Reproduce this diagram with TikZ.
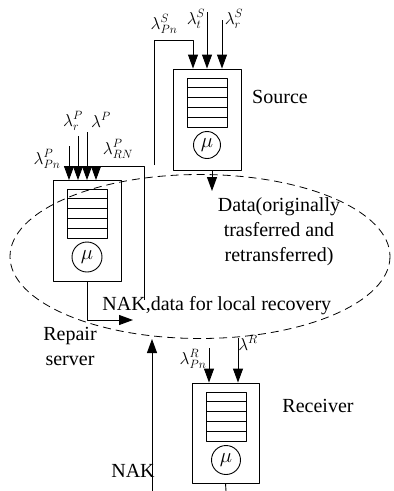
\documentclass[tikz,border=0pt]{standalone}
\usepackage{fontspec}
\setmainfont{Liberation Serif}
\usetikzlibrary{arrows.meta}
\begin{document}
\begin{tikzpicture}[x=1pt,y=-1pt,>={Triangle[length=14pt,width=10pt]}, line width=0.9pt, font=\fontsize{20}{25}\selectfont, line join=round]
\tikzset{station/.style={draw,minimum width=68pt,minimum height=101pt,inner sep=0pt},
	buffer/.style={draw,minimum width=40pt,minimum height=49pt,inner sep=0pt,
		path picture={\foreach \k in {1,...,4} \draw ([yshift=-\k*9.8pt]path picture bounding box.north west)--++(40pt,0);}},
	server/.style={draw,circle,minimum size=27pt,inner sep=0pt},
	lab/.style={inner sep=0pt,font=\fontsize{17}{20}\selectfont}}
\useasboundingbox (0,0) rectangle (394,491);
% Source
\node[station] (src) at (207,119.5) {};
\node[buffer] (srcq) at (207,102.5) {};
\node[server] (srcm) at (207,145) {$\mu$};
\node at (280,97) (srcl) {Source};
% Repair server
\node[station] (rep) at (87,231) {};
\node[buffer] (repq) at (87.5,213.5) {};
\node[server,minimum size=30pt] (repm) at (87,257) {$\mu$};
\node[align=center] at (70,346) (repl) {Repair\\server};
% Receiver
\node[station,minimum width=67pt,minimum height=100pt] (rcv) at (225.5,433) {};
\node[buffer] (rcvq) at (226,416.5) {};
\node[server,minimum size=29pt] (rcvm) at (226,460) {$\mu$};
\node at (318,406) (rcvl) {Receiver};
% local group
\draw[dashed,dash pattern=on 8pt off 5pt,line width=0.8pt] (200,256.5) ellipse [x radius=190, y radius=82];
% inputs of the source
\coordinate (sPn) at (154,165); \coordinate (sPnk) at (193,40);
\coordinate (st) at (207,12); \coordinate (sr) at (222,20);
\draw[->] (sPn) |- (sPnk) -- ([xshift=-14pt]src.north);
\draw[->] (st) -- (src.north);
\draw[->] (sr) -- ([xshift=15pt]src.north);
\node[lab] at (164,24) (lsPn) {$\lambda^S_{Pn}$};
\node[lab] at (196,19) (lst) {$\lambda^S_t$};
\node[lab] at (234,19) (lsr) {$\lambda^S_r$};
% data out of the source
\coordinate (sdat) at (212,191);
\draw[->] ([xshift=5pt]src.south) -- (sdat);
\node[align=center] at (279,232) (dat) {Data(originally\\trasferred and\\retransferred)};
% inputs of the repair server
\coordinate (pPn) at (69,146); \coordinate (pr) at (78,136); \coordinate (pp) at (87,132);
\coordinate (pRN) at (144,300); \coordinate (pRNk) at (96,166);
\draw[->] (pPn) -- ([xshift=-18pt]rep.north);
\draw[->] (pr) -- ([xshift=-9pt]rep.north);
\draw[->] (pp) -- (rep.north);
\draw[->] (pRN) |- (pRNk) -- ([xshift=9pt]rep.north);
\node[lab] at (47,159) (lpPn) {$\lambda^P_{Pn}$};
\node[lab] at (73,121) (lpr) {$\lambda^P_r$};
\node[lab] at (101,120) (lpp) {$\lambda^P$};
\node[lab] at (118,149) (lpRN) {$\lambda^P_{RN}$};
% repair out
\coordinate (pout) at (133,320);
\draw[->] (rep.south) |- (pout);
\node[lab,font=\fontsize{20}{25}\selectfont,anchor=west] at (102,306) (nakdat) {NAK,data for local recovery};
% inputs of the receiver
\coordinate (rPn) at (209,348); \coordinate (rR) at (238,338);
\draw[->] (rPn) -- ([xshift=-16.5pt]rcv.north);
\draw[->] (rR) -- ([xshift=12.5pt]rcv.north);
\node[lab] at (193,359) (lrPn) {$\lambda^R_{Pn}$};
\node[lab] at (248,343) (lrR) {$\lambda^R$};
\coordinate (rout) at (226,491);
\draw (rcv.south) -- (rout);
% NAK upwards
\coordinate (nakb) at (152,491); \coordinate (nakt) at (152,339);
\draw[->] (nakb) -- (nakt);
\node at (133,471) (nak) {NAK};
\end{tikzpicture}
\end{document}
